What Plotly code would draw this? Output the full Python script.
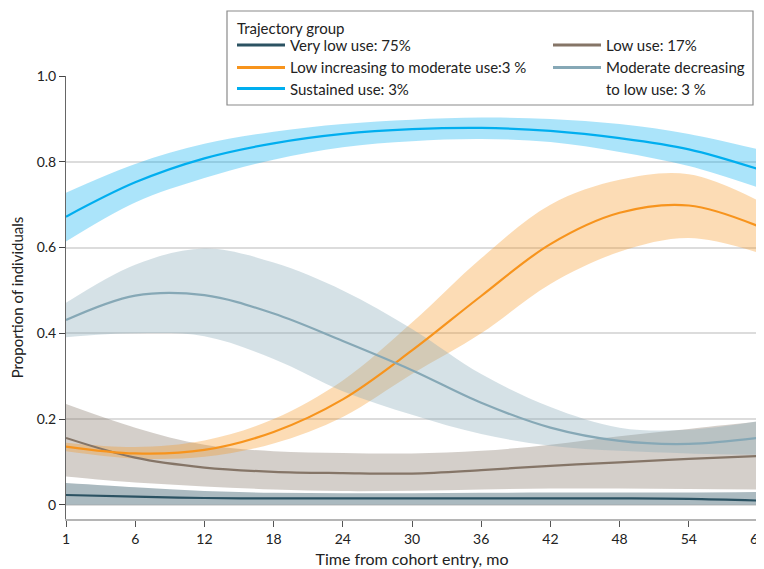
import plotly.graph_objects as go

# ---------------- data ----------------
x_pos = [0, 6, 12, 18, 24, 30, 36, 42, 48, 54, 60]
tick_labels = ["1", "6", "12", "18", "24", "30", "36", "42", "48", "54", "60"]

names = [
    "Very low use: 75%",
    "Low use: 17%",
    "Low increasing to moderate use:3 %",
    "Moderate decreasing<br>to low use: 3 %",
    "Sustained use: 3%",
]

very_low = [0.023, 0.019, 0.016, 0.015, 0.015, 0.015, 0.015, 0.015, 0.015, 0.014, 0.010]
very_low_hi = [0.051, 0.041, 0.032, 0.028, 0.027, 0.027, 0.028, 0.029, 0.029, 0.029, 0.030]
very_low_lo = [0.0, 0.0, 0.0, 0.0, 0.0, 0.0, 0.0, 0.0, 0.0, 0.0, 0.0]

low = [0.156, 0.110, 0.087, 0.077, 0.074, 0.073, 0.081, 0.091, 0.099, 0.107, 0.114]
low_hi = [0.235, 0.180, 0.140, 0.125, 0.121, 0.120, 0.126, 0.140, 0.160, 0.177, 0.194]
low_lo = [0.066, 0.052, 0.043, 0.036, 0.032, 0.033, 0.036, 0.038, 0.038, 0.037, 0.036]

low_inc = [0.136, 0.120, 0.128, 0.170, 0.246, 0.360, 0.487, 0.608, 0.681, 0.698, 0.650]
low_inc_hi = [0.145, 0.135, 0.150, 0.200, 0.290, 0.425, 0.575, 0.700, 0.758, 0.771, 0.710]
low_inc_lo = [0.125, 0.108, 0.112, 0.143, 0.205, 0.305, 0.400, 0.515, 0.590, 0.622, 0.588]

mod_dec = [0.431, 0.488, 0.489, 0.446, 0.382, 0.314, 0.238, 0.180, 0.149, 0.142, 0.156]
mod_dec_hi = [0.471, 0.560, 0.598, 0.565, 0.500, 0.410, 0.305, 0.228, 0.180, 0.175, 0.195]
mod_dec_lo = [0.391, 0.400, 0.393, 0.340, 0.265, 0.210, 0.165, 0.138, 0.126, 0.120, 0.117]

sustained = [0.672, 0.752, 0.808, 0.843, 0.865, 0.876, 0.879, 0.872, 0.855, 0.829, 0.783]
sustained_hi = [0.728, 0.795, 0.842, 0.870, 0.888, 0.898, 0.903, 0.900, 0.888, 0.865, 0.829]
sustained_lo = [0.614, 0.705, 0.762, 0.805, 0.834, 0.848, 0.853, 0.846, 0.823, 0.790, 0.740]

y_ticks = [0, 0.2, 0.4, 0.6, 0.8, 1.0]
y_tick_labels = ["0", "0.2", "0.4", "0.6", "0.8", "1.0"]

# ---------------- styles ----------------
line_colors = ["#2b5262", "#857567", "#f7941d", "#86a8b6", "#00aeef"]
band_colors = [
    "rgba(44,82,97,0.40)",
    "rgba(133,117,103,0.35)",
    "rgba(247,148,29,0.33)",
    "rgba(134,168,182,0.35)",
    "rgba(0,174,239,0.33)",
]
centers = [very_low, low, low_inc, mod_dec, sustained]
highs = [very_low_hi, low_hi, low_inc_hi, mod_dec_hi, sustained_hi]
lows = [very_low_lo, low_lo, low_inc_lo, mod_dec_lo, sustained_lo]

FONT = "Lato, 'Open Sans', sans-serif"

fig = go.Figure()

for i in range(len(names)):
    fig.add_trace(go.Scatter(x=x_pos, y=lows[i], mode="lines",
                             line=dict(width=0, shape="spline", color=band_colors[i]),
                             showlegend=False, hoverinfo="skip"))
    fig.add_trace(go.Scatter(x=x_pos, y=highs[i], mode="lines", fill="tonexty",
                             fillcolor=band_colors[i],
                             line=dict(width=0, shape="spline", color=band_colors[i]),
                             showlegend=False, hoverinfo="skip"))

for i in range(len(names)):
    fig.add_trace(go.Scatter(x=x_pos, y=centers[i], mode="lines",
                             name=names[i].replace("<br>", " "),
                             line=dict(width=2.2, shape="spline", color=line_colors[i]),
                             showlegend=False))

# ---------------- layout (page body has an 8px margin) ----------------
OFF = 8
W, H = 764 - OFF, 569 - OFF
L, T = 66 - OFF, 76 - OFF
R = W - (758 - OFF)
B = H - (519 - OFF)
pw, ph = W - L - R, H - T - B


def px(x):  # window pixel -> paper
    return (x - OFF - L) / pw


def py(y):
    return (H - B - (y - OFF)) / ph


LEG_FONT = dict(family=FONT, size=15, color="#222")

shapes = [dict(type="rect", xref="paper", yref="paper",
               x0=px(227), x1=px(753), y0=py(105), y1=py(11),
               line=dict(color="#8a8a8a", width=1.2), fillcolor="white", layer="above")]
annotations = [dict(text="Trajectory group", xref="paper", yref="paper",
                    x=px(235), y=py(28), xanchor="left", yanchor="middle",
                    showarrow=False, font=LEG_FONT)]

slots = [(237, 45, 0), (553, 45, 1), (237, 67.5, 2), (553, 67.5, 3), (237, 88.5, 4)]
for (lx, ly, idx) in slots:
    shapes.append(dict(type="line", xref="paper", yref="paper",
                       x0=px(lx), x1=px(lx + 48), y0=py(ly), y1=py(ly),
                       line=dict(color=line_colors[idx], width=3), layer="above"))
    parts = names[idx].split("<br>")
    for k, part in enumerate(parts):
        annotations.append(dict(text=part, xref="paper", yref="paper",
                                x=px(lx + 51), y=py(ly + k * 21), xanchor="left",
                                yanchor="middle", showarrow=False, font=LEG_FONT))

fig.update_layout(
    width=W, height=H,
    margin=dict(l=L, r=R, t=T, b=B, autoexpand=False),
    paper_bgcolor="white", plot_bgcolor="white",
    font=dict(family=FONT, size=14, color="#222"),
    shapes=shapes, annotations=annotations,
    showlegend=False,
)

fig.update_xaxes(
    range=[0, 60], tickvals=x_pos, ticktext=tick_labels,
    showgrid=False, zeroline=False, automargin=False, ticklabeloverflow="allow",
    showline=True, linecolor="#b5b5b5", linewidth=2,
    ticks="outside", ticklen=6, tickcolor="#555", tickwidth=1,
    tickfont=dict(family=FONT, size=14, color="#222"),
    title=dict(text="Time from cohort entry, mo", font=dict(family=FONT, size=16, color="#222"), standoff=8),
)
fig.update_yaxes(
    range=[-0.033, 1.0], tickvals=y_ticks, ticktext=y_tick_labels,
    showgrid=True, gridcolor="#dcdcdc", gridwidth=2, zeroline=False, automargin=False,
    showline=True, linecolor="#666", linewidth=1,
    ticks="outside", ticklen=6, tickcolor="#444", tickwidth=1,
    tickfont=dict(family=FONT, size=14, color="#222"),
    title=dict(text="Proportion of individuals", font=dict(family=FONT, size=15, color="#222"), standoff=10),
)

fig.write_html("out.html")
